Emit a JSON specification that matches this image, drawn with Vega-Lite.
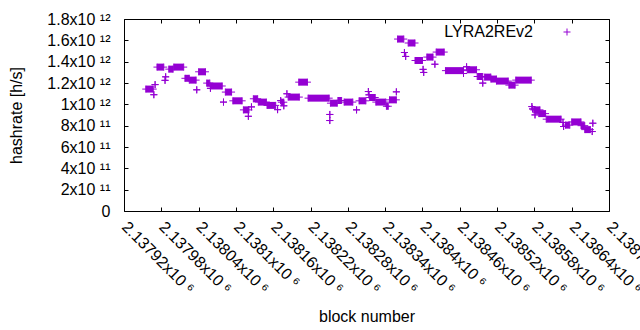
{
  "$schema": "https://vega.github.io/schema/vega-lite/v6.json",
  "width": 485,
  "height": 192,
  "autosize": {"type": "none"},
  "padding": {"left": 124, "top": 19, "right": 31, "bottom": 119},
  "background": "white",
  "config": {
    "view": {"stroke": "#000", "strokeWidth": 1},
    "font": "Liberation Sans",
    "axis": {
      "labelFont": "Liberation Sans", "labelFontSize": 16, "labelColor": "#000",
      "titleFont": "Liberation Sans", "titleFontSize": 16, "titleFontWeight": "normal", "titleColor": "#000",
      "domain": false, "grid": false, "tickColor": "#000", "tickSize": -4, "tickWidth": 1,
      "labelFlush": false, "labelOverlap": false, "labelBound": false
    },
    "legend": {
      "labelFont": "Liberation Sans", "labelFontSize": 16, "labelColor": "#000"
    }
  },
  "data": {"values": [
    {"b0": 2137955, "b1": 2137967, "h": 1.143e12},
    {"b0": 2137968, "b1": 2137968, "h": 1.090e12},
    {"b0": 2137970, "b1": 2137970, "h": 1.185e12},
    {"b0": 2137973, "b1": 2137984, "h": 1.349e12},
    {"b0": 2137986, "b1": 2137986, "h": 1.225e12},
    {"b0": 2137987, "b1": 2137987, "h": 1.258e12},
    {"b0": 2137992, "b1": 2137999, "h": 1.330e12},
    {"b0": 2138000, "b1": 2138016, "h": 1.349e12},
    {"b0": 2138018, "b1": 2138025, "h": 1.244e12},
    {"b0": 2138025, "b1": 2138036, "h": 1.227e12},
    {"b0": 2138037, "b1": 2138037, "h": 1.136e12},
    {"b0": 2138040, "b1": 2138051, "h": 1.305e12},
    {"b0": 2138053, "b1": 2138058, "h": 1.199e12},
    {"b0": 2138059, "b1": 2138059, "h": 1.150e12},
    {"b0": 2138059, "b1": 2138078, "h": 1.172e12},
    {"b0": 2138080, "b1": 2138080, "h": 1.021e12},
    {"b0": 2138083, "b1": 2138093, "h": 1.115e12},
    {"b0": 2138095, "b1": 2138110, "h": 1.033e12},
    {"b0": 2138112, "b1": 2138121, "h": 0.948e12},
    {"b0": 2138120, "b1": 2138120, "h": 0.888e12},
    {"b0": 2138125, "b1": 2138125, "h": 0.976e12},
    {"b0": 2138128, "b1": 2138135, "h": 1.052e12},
    {"b0": 2138136, "b1": 2138149, "h": 1.021e12},
    {"b0": 2138150, "b1": 2138164, "h": 0.990e12},
    {"b0": 2138167, "b1": 2138167, "h": 0.950e12},
    {"b0": 2138172, "b1": 2138172, "h": 1.035e12},
    {"b0": 2138173, "b1": 2138177, "h": 1.020e12},
    {"b0": 2138177, "b1": 2138177, "h": 0.986e12},
    {"b0": 2138182, "b1": 2138182, "h": 1.099e12},
    {"b0": 2138184, "b1": 2138202, "h": 1.068e12},
    {"b0": 2138201, "b1": 2138215, "h": 1.208e12},
    {"b0": 2138216, "b1": 2138250, "h": 1.058e12},
    {"b0": 2138251, "b1": 2138251, "h": 0.905e12},
    {"b0": 2138251, "b1": 2138251, "h": 0.848e12},
    {"b0": 2138252, "b1": 2138263, "h": 1.011e12},
    {"b0": 2138264, "b1": 2138270, "h": 1.036e12},
    {"b0": 2138274, "b1": 2138288, "h": 1.021e12},
    {"b0": 2138294, "b1": 2138294, "h": 0.948e12},
    {"b0": 2138298, "b1": 2138309, "h": 1.033e12},
    {"b0": 2138313, "b1": 2138313, "h": 1.120e12},
    {"b0": 2138314, "b1": 2138314, "h": 1.089e12},
    {"b0": 2138315, "b1": 2138324, "h": 1.064e12},
    {"b0": 2138325, "b1": 2138341, "h": 1.021e12},
    {"b0": 2138342, "b1": 2138345, "h": 0.982e12},
    {"b0": 2138347, "b1": 2138358, "h": 1.042e12},
    {"b0": 2138358, "b1": 2138358, "h": 1.117e12},
    {"b0": 2138360, "b1": 2138370, "h": 1.612e12},
    {"b0": 2138371, "b1": 2138371, "h": 1.486e12},
    {"b0": 2138373, "b1": 2138373, "h": 1.449e12},
    {"b0": 2138377, "b1": 2138388, "h": 1.575e12},
    {"b0": 2138388, "b1": 2138400, "h": 1.411e12},
    {"b0": 2138401, "b1": 2138401, "h": 1.328e12},
    {"b0": 2138402, "b1": 2138402, "h": 1.299e12},
    {"b0": 2138407, "b1": 2138417, "h": 1.443e12},
    {"b0": 2138420, "b1": 2138420, "h": 1.376e12},
    {"b0": 2138422, "b1": 2138435, "h": 1.490e12},
    {"b0": 2138437, "b1": 2138466, "h": 1.316e12},
    {"b0": 2138466, "b1": 2138466, "h": 1.289e12},
    {"b0": 2138471, "b1": 2138471, "h": 1.352e12},
    {"b0": 2138472, "b1": 2138487, "h": 1.324e12},
    {"b0": 2138488, "b1": 2138497, "h": 1.261e12},
    {"b0": 2138497, "b1": 2138497, "h": 1.199e12},
    {"b0": 2138500, "b1": 2138510, "h": 1.255e12},
    {"b0": 2138510, "b1": 2138519, "h": 1.237e12},
    {"b0": 2138519, "b1": 2138538, "h": 1.218e12},
    {"b0": 2138539, "b1": 2138549, "h": 1.180e12},
    {"b0": 2138550, "b1": 2138575, "h": 1.227e12},
    {"b0": 2138576, "b1": 2138576, "h": 0.979e12},
    {"b0": 2138577, "b1": 2138577, "h": 0.957e12},
    {"b0": 2138579, "b1": 2138589, "h": 0.948e12},
    {"b0": 2138581, "b1": 2138581, "h": 0.901e12},
    {"b0": 2138587, "b1": 2138598, "h": 0.913e12},
    {"b0": 2138599, "b1": 2138623, "h": 0.861e12},
    {"b0": 2138626, "b1": 2138626, "h": 0.830e12},
    {"b0": 2138627, "b1": 2138627, "h": 0.792e12},
    {"b0": 2138630, "b1": 2138637, "h": 0.805e12},
    {"b0": 2138640, "b1": 2138655, "h": 0.835e12},
    {"b0": 2138655, "b1": 2138661, "h": 0.800e12},
    {"b0": 2138661, "b1": 2138670, "h": 0.763e12},
    {"b0": 2138673, "b1": 2138673, "h": 0.745e12},
    {"b0": 2138674, "b1": 2138674, "h": 0.823e12}
  ]},
  "layer": [
    {
      "mark": {"type": "rule", "color": "#9400d3", "strokeWidth": 7, "strokeCap": "butt"},
      "encoding": {
        "x": {"field": "b0", "type": "quantitative",
          "scale": {"domain": [2137920, 2138700], "nice": false, "zero": false},
          "axis": {"orient": "bottom",
            "values": [2137920, 2137980, 2138040, 2138100, 2138160, 2138220, 2138280, 2138340, 2138400, 2138460, 2138520, 2138580, 2138640, 2138700],
            "labelExpr": "format(datum.value/1e6, '.5~f') + 'x10 ⁶'",
            "labelAngle": 45, "labelAlign": "left", "labelBaseline": "middle", "labelPadding": 17,
            "title": "block number", "titleY": 105, "titleBaseline": "middle"}},
        "x2": {"field": "b1"},
        "y": {"field": "h", "type": "quantitative",
          "scale": {"domain": [0, 1.8e12], "nice": false, "zero": true},
          "axis": {"orient": "left",
            "values": [0, 2e11, 4e11, 6e11, 8e11, 1e12, 1.2e12, 1.4e12, 1.6e12, 1.8e12],
            "labelExpr": "datum.value == 0 ? '0' : (datum.value < 1e12 ? round(datum.value/1e11) + 'x10 ¹¹' : (round(datum.value/1e11)/10) + 'x10 ¹²')",
            "labelPadding": 18,
            "title": "hashrate [h/s]", "titleX": -108, "titleBaseline": "middle"}}
      }
    },
    {
      "mark": {"type": "point", "shape": "M-1,0H1M0,-1V1", "size": 49, "filled": false, "strokeWidth": 1, "opacity": 1},
      "encoding": {
        "x": {"field": "b0", "type": "quantitative",
          "axis": {"orient": "top",
            "values": [2137920, 2137980, 2138040, 2138100, 2138160, 2138220, 2138280, 2138340, 2138400, 2138460, 2138520, 2138580, 2138640, 2138700],
            "labels": false, "title": null}},
        "y": {"field": "h", "type": "quantitative",
          "axis": {"orient": "right",
            "values": [0, 2e11, 4e11, 6e11, 8e11, 1e12, 1.2e12, 1.4e12, 1.6e12, 1.8e12],
            "labels": false, "title": null}},
        "color": {"datum": "LYRA2REv2", "type": "nominal",
          "scale": {"range": ["#9400d3"]},
          "legend": {"title": null, "orient": "none", "legendX": 435, "legendY": 5,
            "padding": 0, "symbolType": "M-1,0H1M0,-1V1", "symbolSize": 49, "symbolStrokeWidth": 1,
            "symbolStrokeColor": "#9400d3", "symbolFillColor": "transparent",
            "labelAlign": "right", "labelOffset": -42}}
      }
    },
    {
      "mark": {"type": "point", "shape": "M-1,0H1M0,-1V1", "size": 49, "filled": false, "strokeWidth": 1, "opacity": 1, "color": "#9400d3"},
      "encoding": {
        "x": {"field": "b1", "type": "quantitative", "axis": null},
        "y": {"field": "h", "type": "quantitative", "axis": null}
      }
    }
  ],
  "resolve": {"axis": {"x": "independent", "y": "independent"}}
}
